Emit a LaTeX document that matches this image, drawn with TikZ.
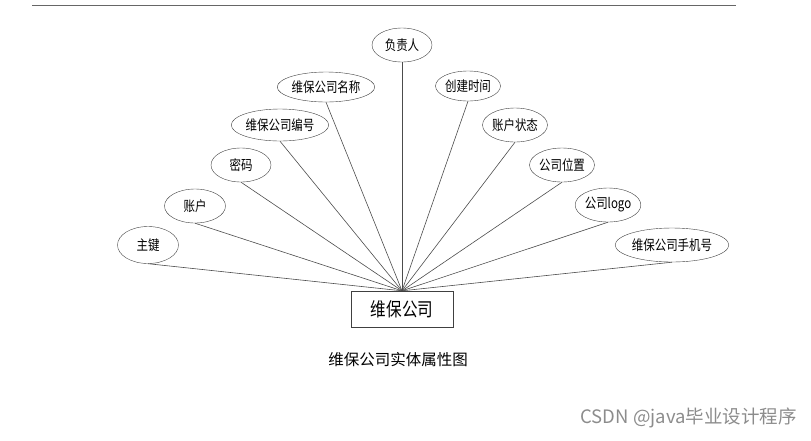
\documentclass[tikz,border=0pt]{standalone}
\usepackage{fontspec}
\setmainfont{Liberation Sans}
\newfontfamily\cjk[FakeStretch=0.82]{Noto Sans CJK SC}
\newfontfamily\cjkplain{Noto Sans CJK SC}
\usetikzlibrary{shapes.geometric}

\tikzset{
	attr/.style={draw=black!75, ellipse, inner sep=0pt, minimum height=34pt, minimum width=60pt,
		font=\cjk\fontsize{14}{14}\selectfont},
	entity/.style={draw=black!75, rectangle, minimum width=102pt, minimum height=36pt,
		font=\cjk\fontsize{19}{19}\selectfont},
	link/.style={draw=black!70, line width=0.6pt}
}

\begin{document}
\begin{tikzpicture}[x=1pt, y=-1pt] % 1
		\useasboundingbox (0,0) rectangle (811,440);
		\draw[black!60, line width=1pt] (32,5) -- (736,5);

		\node[entity] (wbgs) at (402,309) {维保公司};

		\node[attr, minimum width=61pt, minimum height=37pt] (zj) at (148,245) {主键};
		\node[attr, minimum width=61pt] (zh) at (195,206) {账户};
		\node[attr] (mm) at (241,165) {密码};
		\node[attr, minimum width=78pt, minimum height=32pt] (bh) at (280,125) {维保公司编号};
		\node[attr, minimum width=78pt, minimum height=30pt] (mc) at (326,87) {维保公司名称};
		\node[attr] (fzr) at (402,45) {负责人};
		\node[attr, minimum height=30pt] (cjsj) at (468,86) {创建时间};
		\node[attr] (zhzt) at (515,125) {账户状态};
		\node[attr] (gswz) at (562,165) {公司位置};
		\node[attr] (logo) at (608,205) {公司logo};
		\node[attr, minimum width=91pt] (sjh) at (672,245) {维保公司手机号};

		\draw[link] (zj.south) -- (wbgs.north);
		\draw[link] (zh.south) -- (wbgs.north);
		\draw[link] (mm.south) -- (wbgs.north);
		\draw[link] (bh.south) -- (wbgs.north);
		\draw[link] (mc.south) -- (wbgs.north);
		\draw[link] (fzr.south) -- (wbgs.north);
		\draw[link] (cjsj.south) -- (wbgs.north);
		\draw[link] (zhzt.south) -- (wbgs.north);
		\draw[link] (gswz.south) -- (wbgs.north);
		\draw[link] (logo.south) -- (wbgs.north);
		\draw[link] (sjh.south) -- (wbgs.north);

		\node[font=\cjkplain\fontsize{15.5}{15.5}\selectfont] (cap) at (398,360) {维保公司实体属性图};
		\node[anchor=east, inner sep=0pt, text=black!45, font=\cjkplain\fontsize{18.5}{18.5}\selectfont] (wm) at (797,418) {CSDN @java毕业设计程序};
\end{tikzpicture}
\end{document}
